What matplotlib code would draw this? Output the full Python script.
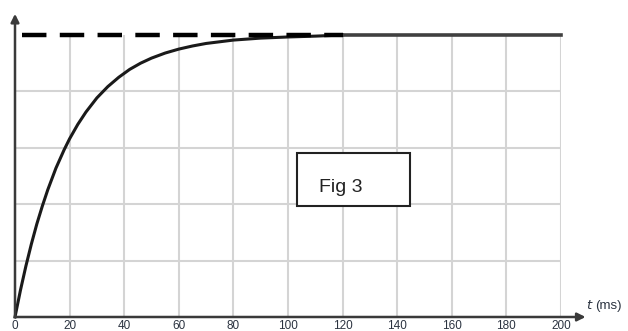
import matplotlib
matplotlib.use("Agg")
import matplotlib.pyplot as plt

# data
t_curve = [0, 2, 4, 6, 8, 10, 12, 15, 18, 20, 23, 26, 30, 34, 38, 42, 46, 50,
           55, 60, 65, 70, 75, 80, 90, 100, 110, 120]
v_curve = [0.0, 0.095, 0.181, 0.259, 0.330, 0.393, 0.451, 0.528, 0.593, 0.632,
           0.683, 0.727, 0.777, 0.817, 0.850, 0.878, 0.900, 0.918, 0.936, 0.950,
           0.961, 0.970, 0.976, 0.982, 0.989, 0.993, 0.996, 1.0]
t_final = [120, 200]
v_final = [1.0, 1.0]
t_dash = [2.5, 120]
v_dash = [1.0, 1.0]
x_ticks = [0, 20, 40, 60, 80, 100, 120, 140, 160, 180, 200]
y_grid = [0.0, 0.2, 0.4, 0.6, 0.8, 1.0]

plt.rcParams['font.family'] = ['Liberation Sans', 'DejaVu Sans']

W, H = 628, 331
fig = plt.figure(figsize=(W / 100, H / 100), dpi=100)
x0, x1 = 15, 561
y0, y1 = 317, 35
ax = fig.add_axes([x0 / W, (H - y0) / H, (x1 - x0) / W, (y0 - y1) / H])
ax.set_xlim(0, 200)
ax.set_ylim(0, 1)
for s in ax.spines.values():
    s.set_visible(False)
ax.set_xticks([])
ax.set_yticks([])

grid_c = '#d4d4d4'
for x in x_ticks[1:]:
    ax.plot([x, x], [0, 1], color=grid_c, lw=1.5, zorder=1)
for y in y_grid[1:-1]:
    ax.plot([0, 200], [y, y], color=grid_c, lw=1.5, zorder=1)

# curve
ax.plot(t_curve, v_curve, color='#1a1a1a', lw=2.2, zorder=3, clip_on=False)
ax.plot(t_final, v_final, color='#404040', lw=2.6, zorder=3, clip_on=False)
ax.plot(t_dash, v_dash, color='black', lw=3.2, zorder=4,
        dashes=(5.5, 3.0), clip_on=False)

# axes with arrows
ax.annotate('', xy=(209, 0), xytext=(0, 0), annotation_clip=False,
            arrowprops=dict(arrowstyle='-|>', color='#3a3a3a', lw=1.8,
                            mutation_scale=12, shrinkA=0, shrinkB=0))
ax.annotate('', xy=(0, 1.075), xytext=(0, 0), annotation_clip=False,
            arrowprops=dict(arrowstyle='-|>', color='#3a3a3a', lw=1.8,
                            mutation_scale=12, shrinkA=0, shrinkB=0))

for x in x_ticks:
    ax.text(x, -0.01, str(x), ha='center', va='top', fontsize=8.5,
            color='#2b3340', clip_on=False)

ax.text(209.3, 0.04, '$t$', ha='left', va='center', fontsize=9.5,
        color='#2b3340', clip_on=False)
ax.text(212.4, 0.04, '(ms)', ha='left', va='center', fontsize=9.5,
        color='#2b3340', clip_on=False)

box = plt.Rectangle(((297 - x0) / 546 * 200, (y0 - 206) / 282), 113 / 546 * 200,
                    53 / 282, fill=True, fc='white', ec='#222222', lw=1.5, zorder=5)
ax.add_patch(box)
ax.text((319 - x0) / 546 * 200, (y0 - 192) / 282, 'Fig 3', ha='left',
        va='baseline', fontsize=14, color='#222222', zorder=6)

fig.savefig('out.png', dpi=100)
